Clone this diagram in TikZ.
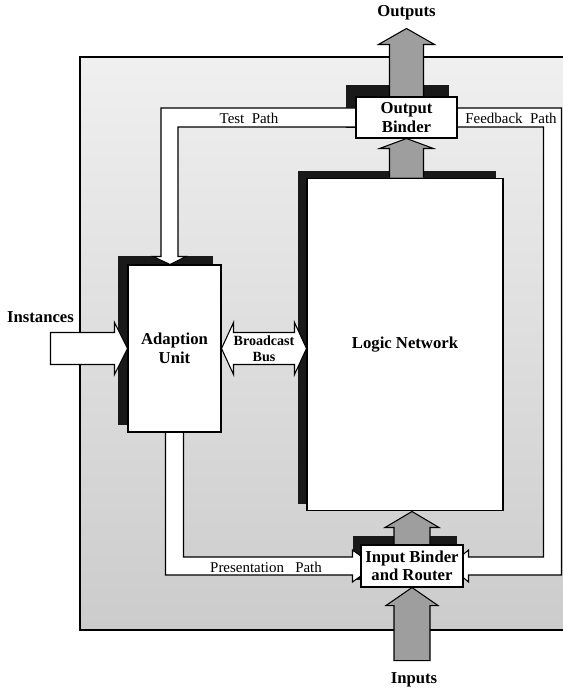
\documentclass[tikz,border=0pt]{standalone}
\usepackage{fontspec}
\setmainfont{Liberation Serif}
\usetikzlibrary{calc}

\pgfdeclarelayer{boardlayer}
\pgfdeclarelayer{shadowlayer}
\pgfdeclarelayer{bandlayer}
\pgfsetlayers{boardlayer,shadowlayer,bandlayer,main}

\tikzset{
  unitbox/.style={draw, fill=white, line width=0.6pt, inner sep=0pt, align=center,
    font=\bfseries\fontsize{9.5}{10.5}\selectfont},
  shadowbox/.style={fill=black!90},
  greyarrow/.style={draw, fill=black!38, line width=0.6pt, line join=miter},
  whitearrow/.style={draw, fill=white, line width=0.6pt, line join=miter},
  pathband/.style={draw, fill=white, line width=0.6pt, line join=miter},
  pathlabel/.style={font=\fontsize{8.5}{10}\selectfont, inner sep=0pt},
  biglabel/.style={font=\bfseries\fontsize{9.5}{10.5}\selectfont, align=center, inner sep=0pt},
}

\begin{document}
\begin{tikzpicture}[x=0.02cm, y=-0.02cm]
  \useasboundingbox (0,0) rectangle (563,689);
  \clip (0,0) rectangle (563,689);

  % the four units
  \node[unitbox, minimum width=1.86cm, minimum height=3.34cm] (adapt) at (174.5,348.5) {Adaption\\Unit};
  \node[unitbox, minimum width=3.92cm, minimum height=6.66cm] (lnet) at (405,344.5) {Logic Network};
  \node[unitbox, minimum width=2.02cm, minimum height=0.82cm] (obind) at (406.5,117.5) {Output\\Binder};
  \node[unitbox, minimum width=2.04cm, minimum height=0.84cm] (ibind) at (412,566) {Input Binder\\and Router};

  % shaded board
  \begin{pgfonlayer}{boardlayer}
    \shade[top color=gray!12, bottom color=gray!40] (80,57) rectangle (600,630);
    \draw[line width=0.6pt] (600,57) -- (80,57) -- (80,630) -- (600,630);
  \end{pgfonlayer}

  % drop shadows
  \begin{pgfonlayer}{shadowlayer}
    \fill[shadowbox] ($(adapt.south west)+(-9,-8)$) rectangle ($(adapt.north east)+(-9,-8)$);
    \fill[shadowbox] ($(lnet.south west)+(-8,-7)$) rectangle ($(lnet.north east)+(-8,-7)$);
    \fill[shadowbox] ($(obind.south west)+(-9,-11)$) rectangle ($(obind.north east)+(-9,-11)$);
    \fill[shadowbox] ($(ibind.south west)+(-7,-8)$) rectangle ($(ibind.north east)+(-7,-8)$);
  \end{pgfonlayer}

  \begin{pgfonlayer}{bandlayer}
    % test path
    \coordinate (testbend) at (170,117.5);
    \coordinate (testtip) at (testbend |- adapt.north);
    \draw[pathband] ($(obind.west)+(0,-9.5)$) -- ($(testbend)+(-9,-9.5)$) -- ($(testtip)+(-9,-8)$)
      -- ($(testtip)+(-17,-8)$) -- (testtip) -- ($(testtip)+(16,-8)$) -- ($(testtip)+(8,-8)$)
      -- ($(testbend)+(8,9.5)$) -- ($(obind.west)+(0,9.5)$);
    % presentation path
    \coordinate (presbend) at (adapt.south |- ibind.west);
    \draw[pathband] ($(adapt.south)+(-9,0)$) -- ($(presbend)+(-9,9)$) -- ($(ibind.west)+(-8,9)$)
      -- ($(ibind.west)+(-8,16)$) -- ($(ibind.west)+(14,0)$) -- ($(ibind.west)+(-8,-16)$)
      -- ($(ibind.west)+(-8,-9)$) -- ($(presbend)+(9,-9)$) -- ($(adapt.south)+(9,0)$);
    % feedback path
    \coordinate (fbtop) at ($(obind.east)+(95,0)$);
    \coordinate (fbbot) at (fbtop |- ibind.east);
    \draw[pathband] ($(obind.east)+(0,-9.5)$) -- ($(fbtop)+(9,-9.5)$) -- ($(fbbot)+(9,9)$)
      -- ($(ibind.east)+(5,9)$) -- ($(ibind.east)+(5,16)$) -- ($(ibind.east)+(-14,0)$)
      -- ($(ibind.east)+(5,-16)$) -- ($(ibind.east)+(5,-9)$) -- ($(fbbot)+(-9,-9)$)
      -- ($(fbtop)+(-9,9.5)$) -- ($(obind.east)+(0,9.5)$);

    % outputs
    \coordinate (outtip) at ($(obind.north)+(0,-68)$);
    \draw[greyarrow] ($(obind.north)+(-17,0)$) -- ($(outtip)+(-17,16)$) -- ($(outtip)+(-28,16)$)
      -- (outtip) -- ($(outtip)+(28,16)$) -- ($(outtip)+(17,16)$) -- ($(obind.north)+(17,0)$);
    % logic network to output binder
    \draw[greyarrow] ($(obind.south |- lnet.north)+(-17,0)$) -- ($(obind.south)+(-17,10)$)
      -- ($(obind.south)+(-27,10)$) -- (obind.south) -- ($(obind.south)+(27,10)$)
      -- ($(obind.south)+(17,10)$) -- ($(obind.south |- lnet.north)+(17,0)$);
    % input binder to logic network
    \coordinate (uptip) at (ibind.north |- lnet.south);
    \draw[greyarrow] ($(ibind.north)+(-18,0)$) -- ($(uptip)+(-18,16)$) -- ($(uptip)+(-27,16)$)
      -- (uptip) -- ($(uptip)+(27,16)$) -- ($(uptip)+(18,16)$) -- ($(ibind.north)+(18,0)$);
    % inputs
    \draw[greyarrow] ($(ibind.south)+(-18,73)$) -- ($(ibind.south)+(-18,18)$) -- ($(ibind.south)+(-26,18)$)
      -- (ibind.south) -- ($(ibind.south)+(26,18)$) -- ($(ibind.south)+(18,18)$)
      -- ($(ibind.south)+(18,73)$) -- cycle;

    % instances
    \draw[whitearrow] ($(adapt.west)+(-77,-16)$) -- ($(adapt.west)+(-13,-16)$) -- ($(adapt.west)+(-13,-26)$)
      -- (adapt.west) -- ($(adapt.west)+(-13,26)$) -- ($(adapt.west)+(-13,16)$)
      -- ($(adapt.west)+(-77,16)$) -- cycle;
    % broadcast bus
    \coordinate (busR) at (lnet.west |- adapt.east);
    \draw[whitearrow] (adapt.east) -- ($(adapt.east)+(12,-26)$) -- ($(adapt.east)+(12,-16)$)
      -- ($(busR)+(-12,-16)$) -- ($(busR)+(-12,-26)$) -- (busR) -- ($(busR)+(-12,26)$)
      -- ($(busR)+(-12,16)$) -- ($(adapt.east)+(12,16)$) -- ($(adapt.east)+(12,26)$) -- cycle;
  \end{pgfonlayer}

  % labels
  \node[biglabel] (outlbl) at ($(outtip)+(0,-16)$) {Outputs};
  \node[biglabel] (inlbl) at ($(ibind.south)+(2,92)$) {Inputs};
  \node[biglabel] (instlbl) at ($(adapt.west)+(-87,-31)$) {Instances};
  \node[biglabel, font=\bfseries\fontsize{8}{9}\selectfont] (buslbl) at ($(adapt.east)!0.5!(busR)$) {Broadcast\\Bus};
  \node[pathlabel] (testlbl) at (249,118) {Test~~Path};
  \node[pathlabel] (fblbl) at (511,118) {Feedback~~Path};
  \node[pathlabel] (preslbl) at (266,567) {Presentation~~~Path};
\end{tikzpicture}
\end{document}
